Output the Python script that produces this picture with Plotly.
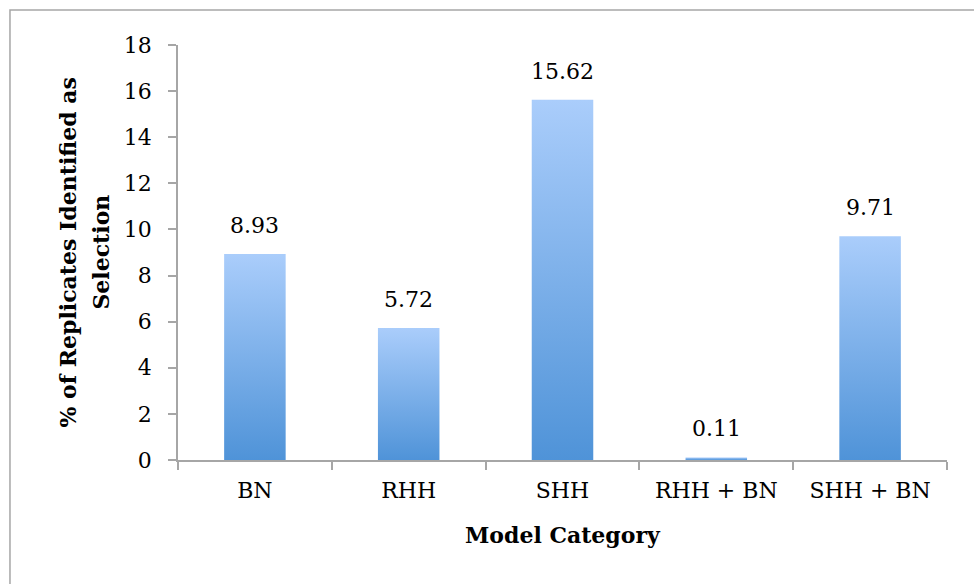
import plotly.graph_objects as go

# Datos del gráfico
categorias = ["BN", "RHH", "SHH", "RHH + BN", "SHH + BN"]
porcentajes = [8.93, 5.72, 15.62, 0.11, 9.71]
etiquetas = ["8.93", "5.72", "15.62", "0.11", "9.71"]
ticks_y = [0, 2, 4, 6, 8, 10, 12, 14, 16, 18]

FUENTE = "DejaVu Serif"
GRIS = "#A6A6A6"
ANCHO = 0.4

fig = go.Figure()

# Traza invisible para registrar las categorías del eje x
fig.add_trace(go.Scatter(x=categorias, y=porcentajes, mode="none",
                         showlegend=False, hoverinfo="skip"))

# Barras con degradado vertical (una traza por barra)
for i, v in enumerate(porcentajes):
    x0, x1 = i - ANCHO / 2, i + ANCHO / 2
    fig.add_trace(go.Scatter(
        x=[x0, x0, x1, x1, x0], y=[0, v, v, 0, 0],
        xaxis="x2", yaxis="y", mode="lines", fill="toself",
        line=dict(width=0),
        fillgradient=dict(type="vertical",
                          colorscale=[[0, "#4F93D8"], [1, "#AACDFB"]]),
        showlegend=False, hoverinfo="skip"))

# Etiquetas de datos
for i, v in enumerate(porcentajes):
    fig.add_annotation(x=i, y=v, xref="x2", yref="y", text=etiquetas[i],
                       showarrow=False, yanchor="bottom", yshift=14,
                       font=dict(family=FUENTE, size=22, color="black"))

fig.update_layout(
    width=974, height=584,
    margin=dict(l=178, r=27, t=45, b=124),
    plot_bgcolor="white", paper_bgcolor="white",
    font=dict(family=FUENTE, size=22, color="black"),
    xaxis=dict(type="category", categoryorder="array", categoryarray=categorias,
               range=[-0.5, 4.5], tickson="boundaries", ticks="outside",
               ticklen=8, tickwidth=1.5, tickcolor=GRIS,
               showline=True, linecolor=GRIS, linewidth=1.5,
               showgrid=False, zeroline=False, ticklabelstandoff=10),
    xaxis2=dict(overlaying="x", range=[-0.5, 4.5], visible=False),
    yaxis=dict(range=[0, 18], tickvals=ticks_y, ticks="outside",
               ticklen=8, tickwidth=1.5, tickcolor=GRIS,
               showline=True, linecolor=GRIS, linewidth=1.5,
               showgrid=False, zeroline=False, ticklabelstandoff=12),
)

# Títulos de ejes
fig.add_annotation(x=0.5, y=-0.181, xref="paper", yref="paper",
                   text="<b>Model Category</b>", showarrow=False,
                   yanchor="middle", font=dict(family=FUENTE, size=22))
fig.add_annotation(x=-0.1443, y=0.5, xref="paper", yref="paper",
                   text="<b>% of Replicates Identified as</b>",
                   showarrow=False, textangle=-90, xanchor="center",
                   font=dict(family=FUENTE, size=22))
fig.add_annotation(x=-0.1014, y=0.5, xref="paper", yref="paper",
                   text="<b>Selection</b>",
                   showarrow=False, textangle=-90, xanchor="center",
                   font=dict(family=FUENTE, size=22))

# Borde exterior del gráfico
fig.add_shape(type="rect", xref="paper", yref="paper",
              x0=-0.2185, x1=1.05, y0=-0.32, y1=1.0843,
              line=dict(color=GRIS, width=1.5), layer="below")

fig.write_html("out.html", config={"displayModeBar": False},
               post_script="document.body.style.margin='0';")
